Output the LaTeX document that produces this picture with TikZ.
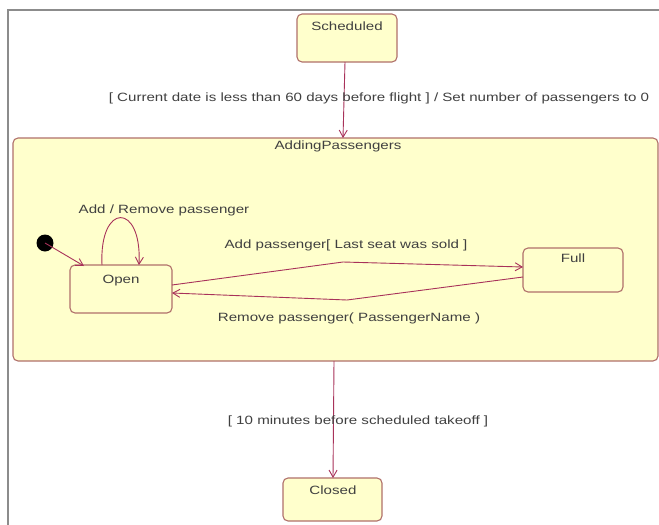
\documentclass[tikz,border=0pt]{standalone}
\usepackage{fontspec}
\setmainfont[FakeStretch=1.26]{Liberation Sans}
\usetikzlibrary{arrows.meta}
\definecolor{statefill}{HTML}{FFFFCC}
\definecolor{stateline}{HTML}{B0706A}
\definecolor{arrowcol}{HTML}{A8325A}
\definecolor{framegray}{HTML}{8C8C8C}
\tikzset{
  statebox/.style={draw=stateline, fill=statefill, rounded corners=5pt, line width=1.1pt},
  lbl/.style={font=\fontsize{12}{14}\selectfont, text=black!75, inner sep=0pt},
  trans/.style={draw=arrowcol, line width=0.9pt, -{Straight Barb[length=7pt,width=8pt]}},
}
\begin{document}
\begin{tikzpicture}[x=1pt,y=-1pt]
\useasboundingbox (0,0) rectangle (659,525);
\fill[white] (0,0) rectangle (659,525);
\draw[framegray, line width=2pt] (7.5,525) -- (7.5,9.5) -- (659,9.5);
% composite state
\draw[statebox] (13,138) rectangle (658,361);
\node[lbl] (addtitle) at (338,146) {AddingPassengers};
% states
\draw[statebox] (297,14) rectangle (397,62);
\node[lbl] (sched) at (347,26) {Scheduled};
\draw[statebox] (70,265) rectangle (172,313);
\node[lbl] (open) at (121,281) {Open};
\draw[statebox] (523,248) rectangle (623,292);
\node[lbl] (full) at (573,258) {Full};
\draw[statebox] (283,478) rectangle (382,521);
\node[lbl] (closed) at (333,490) {Closed};
% anchor coordinates
\coordinate (schedB) at (345,62);
\coordinate (addT) at (343,138);
\coordinate (addB) at (334,361);
\coordinate (closedT) at (333,478);
\coordinate (openTL) at (84,266);
\coordinate (openT1) at (102,265);
\coordinate (openT2) at (139,265);
\coordinate (openR1) at (172,285);
\coordinate (openR2) at (172,293);
\coordinate (fullL1) at (523,267);
\coordinate (fullL2) at (523,277);
\coordinate (mid1) at (343,262);
\coordinate (mid2) at (347,300);
% initial
\fill[black] (45,243) circle (8.5);
\coordinate (init) at (45,243);
% transitions
\draw[trans] (schedB) -- (addT);
\node[lbl] (lab1) at (379,98) {[ Current date is less than 60 days before flight ] / Set number of passengers to 0};
\draw[trans] (init) -- (openTL);
\draw[trans] (openT1) .. controls (99,202) and (142,202) .. (openT2);
\node[lbl] (lab2) at (164,210) {Add / Remove passenger};
\draw[trans] (openR1) -- (mid1) -- (fullL1);
\node[lbl] (lab3) at (346,245) {Add passenger[ Last seat was sold ]};
\draw[trans] (fullL2) -- (mid2) -- (openR2);
\node[lbl] (lab4) at (349,318) {Remove passenger( PassengerName )};
\draw[trans] (addB) -- (closedT);
\node[lbl] (lab5) at (358,421) {[ 10 minutes before scheduled takeoff ]};
\end{tikzpicture}
\end{document}
